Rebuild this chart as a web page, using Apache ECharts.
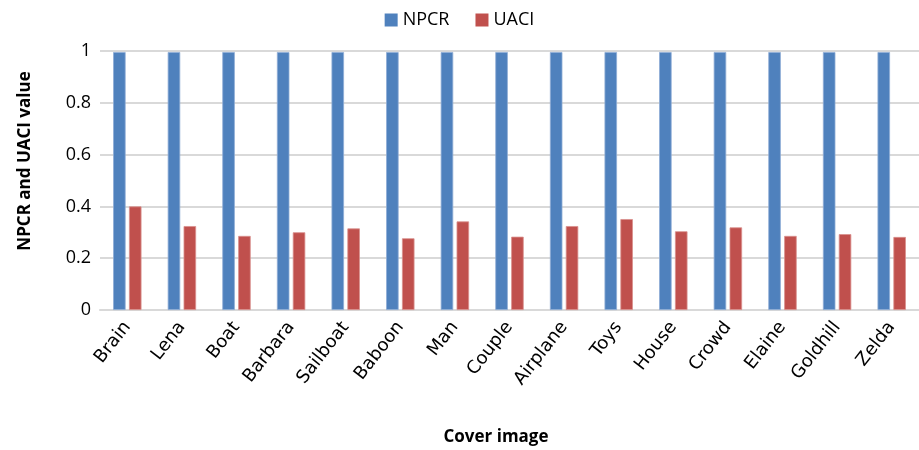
<!DOCTYPE html>
<html>
<head>
<meta charset="utf-8">
<script src="https://cdn.jsdelivr.net/npm/echarts@6/dist/echarts.min.js"></script>
<style>html,body{margin:0;padding:0;background:#fff}#c{width:919px;height:450px}</style>
</head>
<body>
<div id="c"></div>
<script>
const categories = ['Brain','Lena','Boat','Barbara','Sailboat','Baboon','Man','Couple','Airplane','Toys','House','Crowd','Elaine','Goldhill','Zelda'];
const npcr = [0.996,0.996,0.996,0.996,0.996,0.996,0.996,0.996,0.996,0.996,0.996,0.996,0.996,0.996,0.996];
const uaci = [0.400,0.324,0.286,0.300,0.315,0.277,0.342,0.283,0.324,0.351,0.304,0.319,0.286,0.293,0.282];
const yTicks = { min: 0, max: 1, interval: 0.2 };

const FONT = '"Open Sans", sans-serif';
const chart = echarts.init(document.getElementById('c'), null, { renderer: 'canvas' });
chart.setOption({
  animation: false,
  backgroundColor: '#fff',
  legend: {
    top: 6, left: 'center',
    itemWidth: 13, itemHeight: 13, itemGap: 26,
    icon: 'rect',
    itemStyle: { borderWidth: 0 },
    textStyle: { fontFamily: FONT, fontSize: 18, color: '#000' },
    data: ['NPCR', 'UACI']
  },
  grid: { left: 100, right: 0, top: 51, bottom: 140, containLabel: false },
  xAxis: {
    type: 'category',
    data: categories,
    axisLine: { lineStyle: { color: '#d9d9d9', width: 2 } },
    axisTick: { show: false },
    axisLabel: { rotate: 52, margin: 14, fontFamily: '"DejaVu Sans"', fontSize: 18, color: '#000', interval: 0 }
  },
  yAxis: {
    type: 'value',
    min: yTicks.min, max: yTicks.max, interval: yTicks.interval,
    axisLine: { show: false },
    axisTick: { show: false },
    splitLine: { lineStyle: { color: '#d9d9d9', width: 2 } },
    axisLabel: { margin: 9, fontFamily: FONT, fontSize: 18, color: '#000', formatter: v => String(+v.toFixed(1)) }
  },
  graphic: [
    { type: 'text', x: 496, y: 437, style: { text: 'Cover image', font: 'bold 17px ' + FONT, fill: '#000', textAlign: 'center', textVerticalAlign: 'middle' } },
    { type: 'text', x: 25, y: 161, rotation: Math.PI / 2, style: { text: 'NPCR and UACI value', font: 'bold 17px ' + FONT, fill: '#000', textAlign: 'center', textVerticalAlign: 'middle' } }
  ],
  series: [
    { name: 'NPCR', type: 'bar', data: npcr, barWidth: 12.5, barGap: '27%',
      itemStyle: { color: '#4F81BD', borderColor: '#8EACD6', borderWidth: 0.8 } },
    { name: 'UACI', type: 'bar', data: uaci, barWidth: 12.5, barGap: '27%',
      itemStyle: { color: '#C0504D', borderColor: '#D98F8D', borderWidth: 0.8 } }
  ]
});
</script>
</body>
</html>
